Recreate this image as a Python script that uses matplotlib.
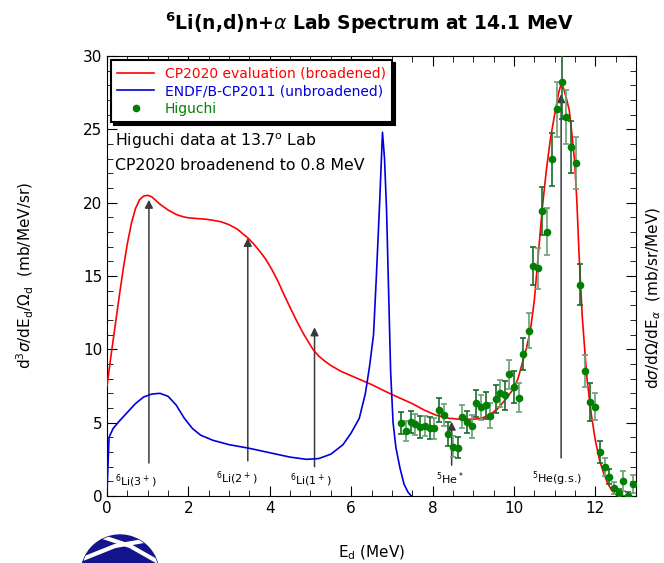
import numpy as np
import matplotlib
matplotlib.use("Agg")
import matplotlib.pyplot as plt
from matplotlib.patches import Circle
from matplotlib.lines import Line2D

# CP2020 evaluation (broadened)
cp_e = [0.0, 0.1, 0.2, 0.3, 0.4, 0.5, 0.6, 0.7, 0.8, 0.9, 1.0, 1.1, 1.2, 1.3, 1.4, 1.5,
        1.6, 1.7, 1.8, 1.9, 2.0, 2.2, 2.4, 2.6, 2.8, 3.0, 3.2, 3.35, 3.46, 3.6, 3.75,
        3.9, 4.05, 4.2, 4.33, 4.5, 4.65, 4.8, 4.95, 5.06, 5.2, 5.35, 5.5, 5.75, 6.0,
        6.5, 6.94, 7.5, 7.8, 8.1, 8.4, 8.7, 9.0, 9.2, 9.4, 9.6, 9.8, 10.0,
        10.1, 10.2, 10.3, 10.4, 10.5, 10.6, 10.7, 10.8, 10.9, 11.0, 11.1, 11.16, 11.22,
        11.3, 11.36, 11.42, 11.49, 11.55, 11.6, 11.68, 11.75, 11.8, 11.9, 12.0, 12.1,
        12.2, 12.3, 12.4, 12.5, 12.6, 12.8]
cp_v = [7.5, 9.6, 11.6, 13.6, 15.5, 17.2, 18.6, 19.6, 20.2, 20.45, 20.5, 20.4, 20.15,
        19.9, 19.7, 19.5, 19.35, 19.2, 19.1, 19.02, 18.97, 18.92, 18.88, 18.8, 18.7,
        18.5, 18.2, 17.85, 17.6, 17.2, 16.7, 16.15, 15.45, 14.65, 13.85, 12.85, 12.0,
        11.2, 10.5, 10.0, 9.55, 9.2, 8.9, 8.5, 8.2, 7.6, 7.0, 6.3, 5.85, 5.5, 5.3, 5.23,
        5.23, 5.3, 5.52, 5.95, 6.6, 7.35, 8.0, 9.0, 10.0, 11.2, 13.3, 16.5, 19.7, 22.3,
        24.4, 26.0, 27.5, 28.1, 27.8, 27.0, 26.3, 24.8, 22.9, 19.9, 16.5, 12.2, 9.6, 7.9,
        5.6, 3.8, 2.5, 1.6, 0.9, 0.4, 0.1, 0.0, 0.0]

# ENDF/B-CP2011 (unbroadened)
endf_e = [0.0, 0.03, 0.05, 0.15, 0.3, 0.5, 0.7, 0.9, 1.1, 1.3, 1.5, 1.7, 1.9, 2.1, 2.3,
          2.6, 3.0, 3.5, 4.0, 4.5, 4.9, 5.2, 5.5, 5.8, 6.0, 6.2, 6.35, 6.45, 6.55, 6.62,
          6.7, 6.77, 6.82, 6.87, 6.92, 6.97, 7.03, 7.1, 7.2, 7.3, 7.4, 7.48]
endf_v = [0.3, 2.5, 4.0, 4.6, 5.1, 5.7, 6.3, 6.75, 6.95, 7.0, 6.8, 6.2, 5.3, 4.6, 4.15,
          3.8, 3.5, 3.25, 2.95, 2.65, 2.5, 2.55, 2.85, 3.5, 4.3, 5.3, 7.0, 8.8, 11.0, 15.0,
          20.0, 24.8, 23.0, 19.5, 14.0, 8.5, 5.0, 3.3, 1.9, 0.8, 0.25, 0.0]

# Higuchi data at 13.7 deg
hig_e = [7.23, 7.35, 7.48, 7.58, 7.70, 7.81, 7.93, 8.04, 8.16, 8.27, 8.39, 8.50, 8.62,
         8.73, 8.84, 8.96, 9.07, 9.19, 9.31, 9.42, 9.55, 9.66, 9.77, 9.89, 10.00, 10.13,
         10.23, 10.36, 10.46, 10.59, 10.69, 10.81, 10.94, 11.05, 11.17, 11.29, 11.40,
         11.53, 11.63, 11.75, 11.87, 11.99, 12.11, 12.23, 12.34, 12.46, 12.57, 12.69,
         12.81, 12.93]
hig_v = [4.96, 4.43, 5.02, 4.89, 4.73, 4.77, 4.66, 4.61, 5.86, 5.50, 4.23, 3.36, 3.29,
         5.41, 5.02, 4.75, 6.32, 6.05, 6.18, 5.48, 6.61, 7.00, 6.86, 8.30, 7.41, 6.70,
         9.66, 11.27, 15.68, 15.52, 19.43, 18.02, 22.97, 26.36, 28.22, 25.86, 23.81,
         22.68, 14.40, 8.54, 6.39, 6.09, 3.02, 1.96, 1.32, 0.55, 0.18, 1.02, 0.0, 0.8]
hig_err = [0.75, 0.7, 0.75, 0.7, 0.75, 0.7, 0.75, 0.7, 0.8, 0.75, 0.8, 0.7, 0.7,
           0.8, 0.75, 0.8, 0.9, 0.85, 0.9, 0.85, 0.95, 0.9, 1.0, 1.0, 1.1, 1.0,
           1.1, 1.2, 1.3, 1.4, 1.65, 1.6, 1.8, 1.86, 2.5, 1.84, 1.76, 1.77,
           1.4, 1.1, 1.3, 0.93, 0.74, 0.6, 0.5, 0.4, 0.3, 0.7, 0.3, 0.6]

# level arrows
arr_e = [1.03, 3.46, 5.1, 8.47, 11.16]
arr_bot = [2.25, 2.4, 2.0, 2.1, 2.6]
arr_top = [20.2, 17.6, 11.5, 5.07, 27.4]
lab_e = [0.71, 3.2, 5.0, 8.42, 11.07]
lab_v = [1.0, 1.2, 1.1, 1.15, 1.2]
lab_txt = [r'$^6$Li(3$^+$)', r'$^6$Li(2$^+$)', r'$^6$Li(1$^+$)', r'$^5$He$^*$', r'$^5$He(g.s.)']

fig = plt.figure(figsize=(6.64, 5.63), dpi=100)
ax = fig.add_axes([107/664, 1-496/563, 529/664, 440/563])

ax.plot(cp_e, cp_v, color='red', lw=1.2, label='CP2020 evaluation (broadened)', zorder=3)
ax.plot(endf_e, endf_v, color='#0000dd', lw=1.2, label='ENDF/B-CP2011 (unbroadened)', zorder=3)

for i in range(len(hig_e)):
    c = '#1a6b2a' if i % 2 == 0 else '#6a9f78'
    ax.errorbar(hig_e[i], hig_v[i], yerr=hig_err[i], fmt='none', ecolor=c,
                elinewidth=1.2, capsize=2.5, capthick=1.2, zorder=4)
ax.plot(hig_e, hig_v, 'o', color='#008000', ms=4.5, label='Higuchi', zorder=5)

for i in range(len(arr_e)):
    ax.annotate('', xy=(arr_e[i], arr_top[i]), xytext=(arr_e[i], arr_bot[i]),
                arrowprops=dict(arrowstyle='-|>', color='#3a3a3a', lw=1.1,
                                mutation_scale=12, shrinkA=0, shrinkB=0), zorder=2)
    ax.text(lab_e[i], lab_v[i], lab_txt[i], fontsize=8, ha='center', va='center')

ax.text(0.2, 24.2, 'Higuchi data at 13.7$^\\mathrm{o}$ Lab', fontsize=11.3, va='center')
ax.text(0.2, 22.5, 'CP2020 broadenend to 0.8 MeV', fontsize=11.3, va='center')

ax.set_xlim(0, 13)
ax.set_ylim(0, 30)
ax.set_xticks([0, 2, 4, 6, 8, 10, 12])
ax.set_xticks(np.arange(0, 13.01, 0.5), minor=True)
ax.set_yticks([0, 5, 10, 15, 20, 25, 30])
ax.set_yticks(np.arange(0, 30.01, 1), minor=True)
ax.tick_params(which='both', direction='in', top=True, right=True, labelsize=11)
ax.tick_params(which='major', length=7)
ax.tick_params(which='minor', length=4)

ax.set_xlabel(r'E$_\mathrm{d}$ (MeV)', fontsize=11, labelpad=20)
ax.set_ylabel(r'd$^3\sigma$/dE$_\mathrm{d}$/$\Omega_\mathrm{d}$  (mb/MeV/sr)', fontsize=11, labelpad=34)
fig.text(0.985, 0.47, r'd$\sigma$/d$\Omega$/dE$_\alpha$  (mb/sr/MeV)', rotation=90,
         fontsize=11, ha='center', va='center')

fig.text(0.557, 0.958, r'$^\mathbf{6}$Li(n,d)n+$\alpha$ Lab Spectrum at 14.1 MeV',
         fontsize=13.5, fontweight='bold', ha='center', va='center')

leg = ax.legend(loc='upper left', bbox_to_anchor=(0.008, 0.99), borderaxespad=0,
                fontsize=10, fancybox=False, shadow={'color': 'black', 'alpha': 1},
                handlelength=2.6, labelspacing=0.25, borderpad=0.45, frameon=True)
leg.get_frame().set_edgecolor('black')
leg.get_frame().set_linewidth(1.5)
for t, c in zip(leg.get_texts(), ['red', '#0000dd', '#008000']):
    t.set_color(c)

# logo at the bottom left
logo = Circle((1.20, -0.11), 0.39, transform=fig.dpi_scale_trans, color='#14148c', zorder=10)
fig.patches.append(logo)
for xs, ys in [([1.00, 1.30, 1.60], [0.27, 0.17, 0.0]), ([0.85, 1.15, 1.55], [0.05, 0.17, 0.24])]:
    ln = Line2D(xs, ys, transform=fig.dpi_scale_trans, color='white', lw=3, zorder=11)
    ln.set_clip_path(logo)
    fig.lines.append(ln)

fig.savefig('out.png', dpi=100)
